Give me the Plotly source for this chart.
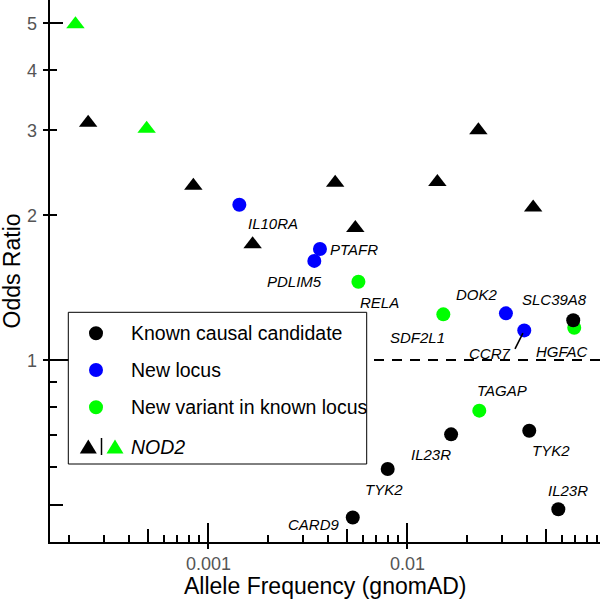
import numpy as np
import plotly.graph_objects as go

# ---------------- data ----------------
known_genes = ["SLC39A8", "IL23R", "TYK2", "TYK2", "IL23R", "CARD9"]
known_af = [0.0682, 0.0166, 0.0410, 0.00797, 0.0574, 0.00532]
known_or = [1.209, 0.701, 0.713, 0.594, 0.490, 0.471]

newlocus_genes = ["IL10RA", "PTAFR", "PDLIM5", "DOK2", "CCR7"]
newlocus_af = [0.001432, 0.00364, 0.00341, 0.0313, 0.0387]
newlocus_or = [2.10, 1.70, 1.606, 1.25, 1.152]

newvar_genes = ["RELA", "SDF2L1", "HGFAC", "TAGAP"]
newvar_af = [0.00568, 0.01517, 0.0690, 0.0230]
newvar_or = [1.454, 1.244, 1.167, 0.785]

nod2_black_af = [0.000249, 0.000841, 0.00167, 0.00434, 0.00548, 0.01416, 0.02276, 0.0429]
nod2_black_or = [3.11, 2.30, 1.739, 2.334, 1.879, 2.342, 3.00, 2.072]
nod2_green_af = [0.000215, 0.00049]
nod2_green_or = [4.98, 3.02]

x_tick_vals = [0.001, 0.01]
x_tick_text = ["0.001", "0.01"]
y_tick_vals = [1, 2, 3, 4, 5]
y_tick_text = ["1", "2", "3", "4", "5"]

legend_labels = ["Known causal candidate", "New locus", "New variant in known locus"]

# ---------------- styling / layout ----------------
W, H = 600, 599
ML, MR, MT, MB = 50, 0, 0, 57
PW, PH = W - ML - MR, H - MT - MB
X_RANGE = [-3.7955, -1.0317]
Y_RANGE = [-0.3778, 0.7474]

BLACK, BLUE, GREEN = "#000000", "#0000FF", "#00FF00"
FONT = "Liberation Sans, Arial, Helvetica, sans-serif"
TICK_FONT = dict(family=FONT, size=18, color="#555555")

label_shift = {
    "known": [(-19, 21), (-20, -20), (22, -20), (-4, -21), (10, 19), (-39, -7)],
    "newlocus": [(34, -19), (34, 0), (-20, -21), (-29, 19), (-35, -23)],
    "newvar": [(21, -21), (-26, -23), (-12, -24), (23, 20)],
}


def px2paper(px, py):
    return (px - ML) / PW, (H - MB - py) / PH


fig = go.Figure()

circ = dict(size=14, line=dict(width=0))
fig.add_trace(go.Scatter(x=newvar_af, y=newvar_or, mode="markers",
                         marker=dict(color=GREEN, **circ), xaxis="x", yaxis="y",
                         hoverinfo="skip", showlegend=False))
fig.add_trace(go.Scatter(x=newlocus_af, y=newlocus_or, mode="markers",
                         marker=dict(color=BLUE, **circ), xaxis="x2", yaxis="y2",
                         hoverinfo="skip", showlegend=False))
fig.add_trace(go.Scatter(x=known_af, y=known_or, mode="markers",
                         marker=dict(color=BLACK, **circ), xaxis="x2", yaxis="y2",
                         hoverinfo="skip", showlegend=False))
tri = dict(size=16, symbol="triangle-up", line=dict(width=0))
fig.add_trace(go.Scatter(x=nod2_black_af, y=nod2_black_or, mode="markers",
                         marker=dict(color=BLACK, **tri), xaxis="x3", yaxis="y3",
                         hoverinfo="skip", showlegend=False))
fig.add_trace(go.Scatter(x=nod2_green_af, y=nod2_green_or, mode="markers",
                         marker=dict(color=GREEN, **tri), xaxis="x3", yaxis="y3",
                         hoverinfo="skip", showlegend=False))

base_ax = dict(type="log", showgrid=False, zeroline=False, fixedrange=True, automargin=False)

x_minor_vals = [m * 10.0 ** e for e in (-4, -3, -2) for m in (2, 3, 4, 6, 7, 8, 9)]
y_minor_vals = [0.6, 0.7, 0.8, 0.9, 2, 3, 4]

fig.update_layout(
    template="none",
    width=W, height=H,
    margin=dict(l=ML, r=MR, t=MT, b=MB, pad=0, autoexpand=False),
    paper_bgcolor="white", plot_bgcolor="white",
    font=dict(family=FONT, color="black"),
    xaxis=dict(**base_ax, range=X_RANGE, showline=True, linecolor="black", linewidth=2,
               ticks="outside", ticklen=5, tickwidth=2, tickcolor="black",
               tickmode="array", tickvals=x_tick_vals, ticktext=x_tick_text,
               showticklabels=False),
    yaxis=dict(**base_ax, range=Y_RANGE, showline=True, linecolor="black", linewidth=2,
               ticks="outside", ticklen=5, tickwidth=2, tickcolor="black",
               tickmode="array", tickvals=y_tick_vals, ticktext=y_tick_text,
               showticklabels=False),
    xaxis2=dict(**base_ax, range=X_RANGE, overlaying="x", anchor="y", side="bottom",
                showline=False, showticklabels=False, ticks="inside", ticklen=19,
                tickwidth=2, tickcolor="black", tickmode="array", tickvals=x_tick_vals,
                minor=dict(tickmode="array", tickvals=[0.0005, 0.005, 0.05], ticks="inside",
                           ticklen=13, tickwidth=2, tickcolor="black", showgrid=False)),
    yaxis2=dict(type="log", zeroline=False, fixedrange=True, automargin=False, range=Y_RANGE,
                overlaying="y", anchor="x", side="left",
                showline=False, showticklabels=False, ticks="inside", ticklen=19,
                tickwidth=2, tickcolor="black", tickmode="array", tickvals=[1],
                showgrid=True, gridcolor="black", gridwidth=2, griddash="10px,8px",
                minor=dict(tickmode="array", tickvals=[0.5, 5], ticks="inside",
                           ticklen=13, tickwidth=2, tickcolor="black", showgrid=False)),
    xaxis3=dict(**base_ax, range=X_RANGE, overlaying="x", anchor="y", side="bottom",
                showline=False, showticklabels=False, ticks="inside", ticklen=7,
                tickwidth=2, tickcolor="black", tickmode="array", tickvals=x_minor_vals),
    yaxis3=dict(**base_ax, range=Y_RANGE, overlaying="y", anchor="x", side="left",
                showline=False, showticklabels=False, ticks="inside", ticklen=7,
                tickwidth=2, tickcolor="black", tickmode="array", tickvals=y_minor_vals),
)

annotations = []
# tick labels (placed on the axes' own scales)
for v, t in zip(x_tick_vals, x_tick_text):
    annotations.append(dict(x=np.log10(v), xref="x", y=0, yref="paper", text=t,
                            showarrow=False, xanchor="center", yanchor="middle",
                            yshift=-22, font=TICK_FONT))
for v, t in zip(y_tick_vals, y_tick_text):
    annotations.append(dict(x=0, xref="paper", y=np.log10(v), yref="y", text=t,
                            showarrow=False, xanchor="right", yanchor="middle",
                            xshift=-11.5, yshift=-1, font=TICK_FONT))

# point labels
for key, genes, afs, ors in (("known", known_genes, known_af, known_or),
                             ("newlocus", newlocus_genes, newlocus_af, newlocus_or),
                             ("newvar", newvar_genes, newvar_af, newvar_or)):
    for g, a, o, (dx, dy) in zip(genes, afs, ors, label_shift[key]):
        annotations.append(dict(x=np.log10(a), y=np.log10(o), xref="x", yref="y",
                                text="<i>%s</i>" % g, showarrow=False,
                                xshift=dx, yshift=dy, xanchor="center", yanchor="middle",
                                font=dict(family=FONT, size=15, color="black")))
# CCR7 leader line
i_ccr7 = newlocus_genes.index("CCR7")
annotations.append(dict(x=np.log10(newlocus_af[i_ccr7]), y=np.log10(newlocus_or[i_ccr7]),
                        xref="x", yref="y", text="", showarrow=True, arrowhead=0,
                        ax=-10, ay=20, standoff=3, arrowwidth=1.6, arrowcolor="black"))

# axis titles
tx, ty = px2paper(325, 586)
annotations.append(dict(x=tx, y=ty, xref="paper", yref="paper", text="Allele Frequency (gnomAD)",
                        showarrow=False, xanchor="center", yanchor="middle",
                        font=dict(family=FONT, size=23, color="black")))
tx, ty = px2paper(12, 271.5)
annotations.append(dict(x=tx, y=ty, xref="paper", yref="paper", text="Odds Ratio",
                        showarrow=False, xanchor="center", yanchor="middle", textangle=-90,
                        font=dict(family=FONT, size=23, color="black")))

# legend
shapes = []
bx0, by0 = px2paper(68.3, 464)
bx1, by1 = px2paper(366.7, 312.3)
shapes.append(dict(type="rect", xref="paper", yref="paper", x0=bx0, x1=bx1, y0=by0, y1=by1,
                   line=dict(color="black", width=1), fillcolor="white", layer="above"))
row_y = [333.3, 370, 407.3]
for lab, col, ry in zip(legend_labels, (BLACK, BLUE, GREEN), row_y):
    mx, my = px2paper(96, ry)
    shapes.append(dict(type="circle", xref="paper", yref="paper", xsizemode="pixel",
                       ysizemode="pixel", xanchor=mx, yanchor=my, x0=-7, x1=7, y0=-7, y1=7,
                       fillcolor=col, line=dict(width=0), layer="above"))
    lx, ly = px2paper(129, ry)
    annotations.append(dict(x=lx, y=ly, xref="paper", yref="paper", text=lab, showarrow=False,
                            xanchor="left", yanchor="middle",
                            font=dict(family=FONT, size=19.5, color="black")))
ny = 446.5
for cx, col in ((88.3, BLACK), (115, GREEN)):
    mx, my = px2paper(cx, ny)
    shapes.append(dict(type="path", xref="paper", yref="paper", xsizemode="pixel",
                       ysizemode="pixel", xanchor=mx, yanchor=my,
                       path="M-8.5,-7 L8.5,-7 L0,7 Z", fillcolor=col, line=dict(width=0),
                       layer="above"))
bx, byc = px2paper(101.5, ny)
shapes.append(dict(type="line", xref="paper", yref="paper", xsizemode="pixel", ysizemode="pixel",
                   xanchor=bx, yanchor=byc, x0=0, x1=0, y0=-8.5, y1=8.5,
                   line=dict(color="black", width=1.5), layer="above"))
lx, ly = px2paper(129, ny)
annotations.append(dict(x=lx, y=ly, xref="paper", yref="paper", text="<i>NOD2</i>",
                        showarrow=False, xanchor="left", yanchor="middle",
                        font=dict(family=FONT, size=19.5, color="black")))

fig.update_layout(annotations=annotations, shapes=shapes)
fig.write_html("out.html", config={"displayModeBar": False},
               post_script="document.body.style.margin='0';document.body.style.overflow='hidden';")
